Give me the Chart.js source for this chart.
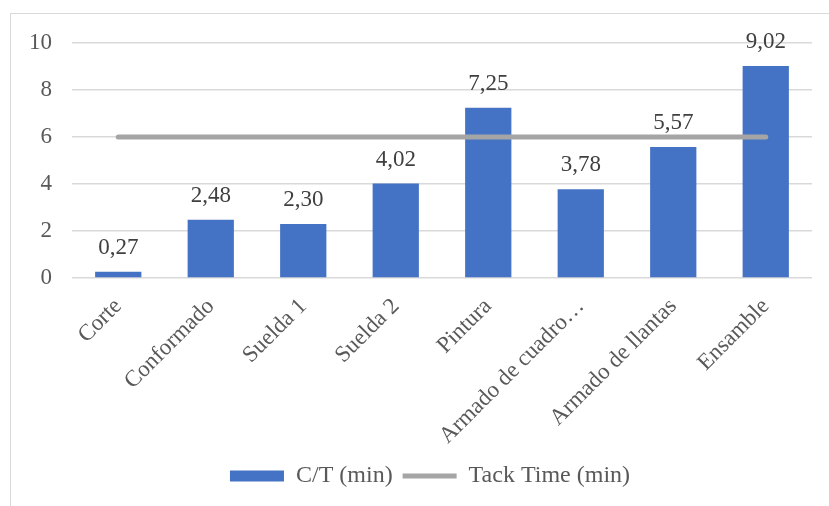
<!DOCTYPE html>
<html>
<head>
<meta charset="utf-8">
<script src="https://cdn.jsdelivr.net/npm/chart.js@4"></script>
<style>
  body { margin: 0; background: #fff; overflow: hidden; }
  #frame { position: absolute; left: 10px; top: 13px; width: 900px; height: 600px; border: 1px solid #D9D9D9; }
  #wrap { position: absolute; left: 0; top: 0; width: 829px; height: 506px; }
</style>
</head>
<body>
<div id="frame"></div>
<div id="wrap"><canvas id="chart" width="829" height="506"></canvas></div>
<script>
var categories = ['Corte', 'Conformado', 'Suelda 1', 'Suelda 2', 'Pintura', 'Armado de cuadro\u2026', 'Armado de llantas', 'Ensamble'];
var ctValues = [0.27, 2.48, 2.30, 4.02, 7.25, 3.78, 5.57, 9.02];
var tackTime = [6, 6, 6, 6, 6, 6, 6, 6];
var yTicks = [0, 2, 4, 6, 8, 10];

const serif = "'Liberation Serif', 'Times New Roman', serif";

// value labels above the bars, decimal comma
const barLabels = {
    id: 'barLabels',
    afterLayout(chart) {
        // nudge legend so it sits centred like the original
        chart.legend.left += 12;
        chart.legend.right += 12;
    },
    afterDatasetsDraw(chart) {
        const meta = chart.getDatasetMeta(0);
        const ctx = chart.ctx;
        ctx.save();
        ctx.font = '23px ' + serif;
        ctx.fillStyle = '#404040';
        ctx.textAlign = 'center';
        ctx.textBaseline = 'middle';
        meta.data.forEach((bar, i) => {
            const txt = ctValues[i].toFixed(2).replace('.', ',');
            ctx.fillText(txt, bar.x, bar.y - 24);
        });
        ctx.restore();
    }
};

new Chart(document.getElementById('chart').getContext('2d'), {
    data: {
        labels: categories,
        datasets: [{
            type: 'bar',
            label: 'C/T (min)',
            data: ctValues,
            backgroundColor: '#4472C4',
            pointStyle: 'rect',
            barPercentage: 0.5,
            categoryPercentage: 1,
            order: 1
        }, {
            type: 'line',
            label: 'Tack Time (min)',
            data: tackTime,
            borderColor: '#A5A5A5',
            backgroundColor: '#A5A5A5',
            borderWidth: 5,
            borderCapStyle: 'round',
            pointRadius: 0,
            pointStyle: 'line',
            order: 0
        }]
    },
    options: {
        responsive: false,
        animation: false,
        layout: { padding: { left: 24, right: 17, top: 43, bottom: 8 } },
        scales: {
            x: {
                grid: { display: false },
                border: { display: false },
                ticks: {
                    color: '#595959',
                    font: { family: serif, size: 23 },
                    minRotation: 45,
                    maxRotation: 45,
                    autoSkip: false,
                    padding: 7
                },
                afterFit: (scale) => {
                    scale.height = 176;
                    scale.paddingLeft = 0;
                    scale.paddingRight = 0;
                }
            },
            y: {
                min: 0,
                max: 10,
                afterBuildTicks: (scale) => { scale.ticks = yTicks.map(v => ({ value: v })); },
                grid: { color: '#D9D9D9', lineWidth: 1.5, drawTicks: false },
                border: { display: false },
                ticks: {
                    color: '#595959',
                    font: { family: serif, size: 23 },
                    padding: 20
                },
                afterFit: (scale) => {
                    scale.width = 48;
                    scale.paddingTop = 0;
                    scale.paddingBottom = 0;
                }
            }
        },
        plugins: {
            legend: {
                position: 'bottom',
                labels: {
                    usePointStyle: true,
                    pointStyleWidth: 54,
                    boxWidth: 54,
                    boxHeight: 11,
                    color: '#595959',
                    font: { family: serif, size: 24 },
                    padding: 10,
                    sort: (a, b) => a.datasetIndex - b.datasetIndex
                }
            },
            tooltip: { enabled: false }
        }
    },
    plugins: [barLabels]
});
</script>
</body>
</html>
